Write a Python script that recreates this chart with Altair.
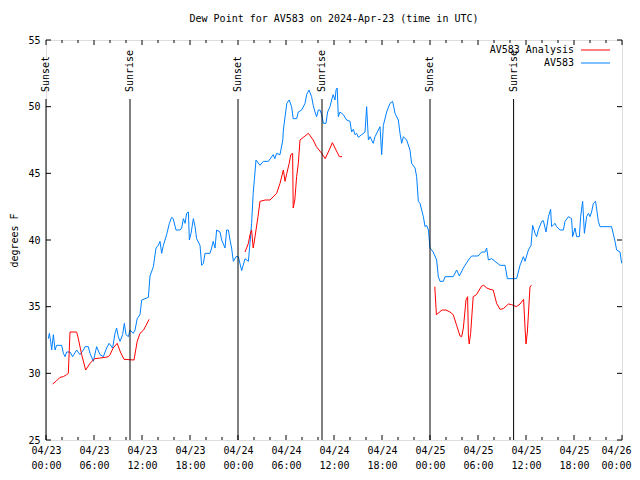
import json
import altair as alt
import pandas as pd

# ---------------- data ----------------
obs_hours = [0.29, 0.42, 0.58, 0.71, 0.92, 1.13, 1.33, 1.96, 2.17, 2.38, 2.58, 3.0, 3.33, 3.83, 4.25, 4.67, 4.88, 5.29,
             5.5, 5.92, 6.33, 6.75, 7.17, 7.58, 7.88, 8.33, 8.63, 8.83, 9.04, 9.25, 9.58, 9.79, 10.0, 10.3, 10.5, 10.9,
             11.13, 11.4, 11.75, 11.96, 12.8, 13.0, 13.42, 13.75, 14.04, 14.25, 14.46, 14.67, 15.08, 15.42, 15.7, 15.9,
             16.25, 16.75, 16.96, 17.17, 17.38, 17.58, 17.8, 17.92, 18.13, 18.42, 18.63, 18.83, 19.25, 19.46, 19.67,
             19.88, 20.5, 20.7, 20.9, 21.13, 21.33, 21.75, 21.96, 22.38, 22.58, 22.8, 23.0, 23.2, 23.42, 23.75, 24.04,
             24.46, 24.88, 25.3, 25.5, 25.7, 25.9, 26.25, 26.75, 27.17, 27.8, 28.4, 28.6, 28.83, 29.25, 29.6, 29.67,
             30.1, 30.4, 30.7, 30.9, 31.33, 31.54, 31.96, 32.38, 32.58, 32.88, 33.2, 33.4, 33.63, 33.83, 34.04, 34.25,
             34.46, 34.67, 35.0, 35.2, 35.5, 35.7, 35.9, 36.13, 36.25, 36.4, 36.54, 36.75, 37.17, 37.58, 38.0, 38.2,
             38.42, 38.63, 38.83, 39.04, 39.46, 39.88, 40.08, 40.3, 40.5, 40.9, 41.13, 41.75, 41.96, 42.17, 42.58, 43.0,
             43.33, 43.63, 44.04, 44.25, 44.46, 44.67, 45.08, 45.5, 45.7, 46.13, 46.33, 46.54, 46.75, 47.17, 47.38,
             47.58, 47.8, 48.0, 48.4, 48.83, 49.04, 49.25, 49.67, 49.88, 50.9, 51.33, 51.67, 52.17, 52.8, 53.2, 54.0,
             54.46, 54.88, 55.08, 55.3, 55.7, 56.13, 56.75, 57.38, 57.67, 58.83, 59.25, 59.67, 59.88, 60.3, 60.63,
             60.83, 61.13, 61.33, 61.54, 61.96, 62.17, 62.5, 62.8, 63.08, 63.2, 63.63, 63.83, 64.25, 64.67, 64.88, 65.3,
             65.7, 65.83, 66.13, 66.33, 66.67, 66.83, 67.08, 67.3, 67.58, 67.8, 68.0, 68.2, 68.42, 68.7, 69.04, 69.25,
             70.7, 71.13, 71.33, 71.75, 71.96]
obs_values = [32.6, 33.0, 32.4, 31.75, 32.9, 31.75, 32.1, 32.1, 31.5, 31.25, 31.6, 31.6, 31.25, 31.75, 31.4, 31.75, 32.0,
              32.0, 31.5, 30.9, 32.0, 31.4, 31.25, 31.9, 32.25, 31.9, 33.0, 33.4, 32.75, 32.4, 32.9, 33.75, 32.9, 32.75,
              33.25, 33.0, 33.25, 34.1, 34.4, 35.5, 35.7, 37.3, 38.0, 39.4, 39.6, 39.9, 39.0, 39.6, 40.4, 41.25, 41.7,
              41.6, 40.75, 40.75, 40.9, 41.6, 41.25, 42.0, 42.1, 40.0, 40.5, 41.6, 41.0, 40.1, 39.6, 38.1, 38.25, 39.0,
              39.0, 39.4, 39.9, 39.4, 40.75, 40.6, 40.0, 39.4, 40.75, 40.75, 40.0, 39.4, 38.4, 38.75, 38.75, 37.7, 38.6,
              38.4, 39.8, 41.25, 43.5, 46.0, 45.6, 45.9, 45.9, 46.4, 46.1, 46.5, 46.4, 47.5, 48.25, 50.25, 50.5, 50.0,
              49.1, 49.1, 49.6, 49.75, 50.25, 50.9, 51.25, 50.75, 50.1, 49.6, 49.25, 49.75, 49.75, 49.4, 48.75, 48.75,
              49.6, 50.0, 50.5, 50.9, 50.5, 51.25, 51.4, 49.25, 49.6, 49.4, 49.0, 48.9, 48.1, 48.3, 47.9, 48.0, 47.7,
              47.9, 48.1, 50.0, 47.5, 47.75, 47.25, 47.75, 48.5, 46.4, 48.6, 49.6, 50.25, 50.4, 49.5, 49.0, 48.0, 47.25,
              47.75, 47.5, 46.75, 45.75, 45.4, 44.75, 42.9, 42.75, 41.75, 41.0, 41.1, 40.75, 39.4, 39.1, 38.5, 37.25,
              36.9, 36.9, 37.25, 37.25, 37.75, 37.3, 37.9, 38.5, 38.8, 38.8, 39.1, 39.1, 39.4, 38.5, 38.6, 38.4, 38.1,
              38.1, 37.1, 37.1, 38.1, 38.75, 38.4, 39.25, 39.6, 41.1, 40.5, 40.25, 40.75, 41.4, 41.45, 40.6, 41.75,
              42.3, 41.0, 41.25, 41.0, 40.75, 40.75, 41.4, 41.75, 41.6, 40.25, 40.9, 40.25, 40.25, 41.75, 42.9, 40.5,
              41.75, 42.0, 41.75, 42.1, 42.75, 42.9, 41.4, 41.0, 41.0, 39.9, 39.25, 39.1, 38.25]

ana_seg1_hours = [0.83, 1.25, 1.75, 2.17, 2.58, 2.79, 3.0, 3.83, 4.0, 4.46, 4.96, 5.5, 5.9, 6.1, 7.4, 7.8, 8.0, 8.4, 8.9,
                  9.3, 9.75, 11.0, 11.4, 11.75, 12.2, 12.5, 12.9]
ana_seg1_values = [29.2, 29.4, 29.7, 29.75, 29.9, 30.0, 33.1, 33.1, 32.7, 31.4, 30.25, 30.75, 31.0, 31.1, 31.2, 31.25,
                   31.4, 31.9, 32.25, 31.6, 31.05, 31.0, 32.4, 33.0, 33.25, 33.6, 34.05]
ana_seg2_hours = [24.88, 25.3, 25.5, 25.7, 25.9, 26.0, 26.25, 26.5, 26.75, 27.4, 28.0, 28.83, 29.25, 29.67, 29.88, 30.1,
                  30.4, 30.6, 30.83, 30.9, 31.1, 31.33, 31.54, 31.75, 32.8, 33.4, 33.8, 34.46, 34.9, 35.4, 35.8, 36.25,
                  36.67, 37.0]
ana_seg2_values = [39.1, 39.75, 40.4, 40.75, 39.4, 39.75, 40.75, 41.75, 42.9, 43.0, 43.0, 43.5, 44.25, 45.25, 44.4, 45.0,
                   45.75, 46.4, 46.5, 42.4, 43.0, 44.75, 45.75, 47.5, 48.0, 47.5, 47.0, 46.5, 46.1, 46.75, 47.3, 46.75,
                   46.25, 46.25]
ana_seg3_hours = [48.6, 48.8, 49.5, 50.0, 50.5, 50.9, 51.33, 51.75, 51.96, 52.17, 52.5, 52.7, 52.8, 52.9, 53.08, 53.4,
                  53.8, 54.0, 54.46, 54.7, 55.1, 55.5, 55.9, 56.33, 56.75, 57.17, 57.8, 58.2, 58.8, 59.25, 59.7, 59.88,
                  60.0, 60.17, 60.5, 60.7]
ana_seg3_values = [36.5, 34.4, 34.75, 34.75, 34.6, 34.4, 33.6, 32.8, 32.75, 33.4, 35.5, 35.75, 32.8, 32.2, 33.0, 35.75,
                   35.9, 36.1, 36.55, 36.6, 36.4, 36.3, 36.25, 35.25, 34.8, 34.85, 35.2, 35.15, 35.0, 35.2, 35.55, 33.4,
                   32.2, 33.1, 36.5, 36.6]

sun_hours = [0, 10.5, 24, 34.5, 48, 58.45]
sun_labels = ["Sunset", "Sunrise", "Sunset", "Sunrise", "Sunset", "Sunrise"]

series_names = ["AV583 Analysis", "AV583"]
series_colors = ["#ff0000", "#0080ff"]

x_tick_values = list(range(0, 73, 6))
x_tick_labels = [["04/23", "00:00"], ["04/23", "06:00"], ["04/23", "12:00"], ["04/23", "18:00"],
                 ["04/24", "00:00"], ["04/24", "06:00"], ["04/24", "12:00"], ["04/24", "18:00"],
                 ["04/25", "00:00"], ["04/25", "06:00"], ["04/25", "12:00"], ["04/25", "18:00"],
                 ["04/26", "00:00"]]
x_minor_values = list(range(0, 73, 2))
y_tick_values = [25, 30, 35, 40, 45, 50, 55]

FONT = "DejaVu Sans Mono"
W, H = 576, 400

# ---------------- tables ----------------
obs_df = pd.DataFrame({"h": obs_hours, "v": obs_values, "series": "AV583", "seg": 0})
ana_df = pd.concat([
    pd.DataFrame({"h": ana_seg1_hours, "v": ana_seg1_values, "seg": 1}),
    pd.DataFrame({"h": ana_seg2_hours, "v": ana_seg2_values, "seg": 2}),
    pd.DataFrame({"h": ana_seg3_hours, "v": ana_seg3_values, "seg": 3}),
])
ana_df["series"] = "AV583 Analysis"
sun_df = pd.DataFrame({"h": sun_hours, "label": sun_labels})
xmajor_df = pd.DataFrame({"h": x_tick_values})
xminor_df = pd.DataFrame({"h": [m for m in x_minor_values if m % 6 != 0]})
ytick_df = pd.DataFrame({"v": y_tick_values})

label_expr = json.dumps(x_tick_labels) + "[round(datum.value / 6)]"

xscale = alt.Scale(domain=[0, 72], nice=False, zero=False)
yscale = alt.Scale(domain=[25, 55], nice=False, zero=False)
cscale = alt.Scale(domain=series_names, range=series_colors)

x_enc = alt.X("h:Q", scale=xscale,
              axis=alt.Axis(values=x_tick_values, labelExpr=label_expr, ticks=False, domain=False, grid=False,
                            labelFont=FONT, labelFontSize=10, labelColor="black", labelPadding=5,
                            labelLineHeight=15, labelFlush=False, labelOverlap=False,
                            labelOffset={"condition": {"test": "datum.value >= 72", "value": -6}, "value": 0}),
              title=None)
y_enc = alt.Y("v:Q", scale=yscale,
              axis=alt.Axis(values=y_tick_values, ticks=False, domain=False, grid=False,
                            labelFont=FONT, labelFontSize=10, labelColor="black", labelPadding=6,
                            titleFont=FONT, titleFontSize=10, titleFontWeight="normal", titleColor="black",
                            titlePadding=8),
              title="degrees F")

obs_line = alt.Chart(obs_df).mark_line(strokeWidth=1, interpolate="linear").encode(
    x=x_enc, y=y_enc, color=alt.Color("series:N", scale=cscale, legend=None))
ana_line = alt.Chart(ana_df).mark_line(strokeWidth=1, interpolate="linear").encode(
    x=alt.X("h:Q", scale=xscale), y=alt.Y("v:Q", scale=yscale),
    color=alt.Color("series:N", scale=cscale, legend=None), detail="seg:N")

sun_rules = alt.Chart(sun_df).mark_rule(color="black", strokeWidth=1).encode(
    x=alt.X("h:Q", scale=xscale), y=alt.value(59), y2=alt.value(H))
sun_text = alt.Chart(sun_df).mark_text(angle=270, align="left", baseline="middle", font=FONT, fontSize=10,
                                        color="black").encode(
    x=alt.X("h:Q", scale=xscale), y=alt.value(52), text="label:N")

tick_style = dict(color="black", strokeWidth=1)
xmaj_bot = alt.Chart(xmajor_df).mark_rule(**tick_style).encode(
    x=alt.X("h:Q", scale=xscale), y=alt.value(H), y2=alt.value(H - 5))
xmaj_top = alt.Chart(xmajor_df).mark_rule(**tick_style).encode(
    x=alt.X("h:Q", scale=xscale), y=alt.value(0), y2=alt.value(5))
xmin_bot = alt.Chart(xminor_df).mark_rule(**tick_style).encode(
    x=alt.X("h:Q", scale=xscale), y=alt.value(H), y2=alt.value(H - 3))
xmin_top = alt.Chart(xminor_df).mark_rule(**tick_style).encode(
    x=alt.X("h:Q", scale=xscale), y=alt.value(0), y2=alt.value(3))
y_left = alt.Chart(ytick_df).mark_rule(**tick_style).encode(
    y=alt.Y("v:Q", scale=yscale), x=alt.value(0), x2=alt.value(5))
y_right = alt.Chart(ytick_df).mark_rule(**tick_style).encode(
    y=alt.Y("v:Q", scale=yscale), x=alt.value(W), x2=alt.value(W - 5))

leg_layers = []
for i, (name, col) in enumerate(zip(series_names, series_colors)):
    ly = 10 + 13 * i
    ldf = pd.DataFrame({"series": [name]})
    leg_layers.append(alt.Chart(ldf).mark_text(align="right", baseline="middle", font=FONT, fontSize=10,
                                               color="black").encode(
        x=alt.value(528), y=alt.value(ly), text="series:N"))
    leg_layers.append(alt.Chart(ldf).mark_rule(color=col, strokeWidth=1).encode(
        x=alt.value(535), x2=alt.value(564), y=alt.value(ly)))

chart = alt.layer(
    obs_line, ana_line, sun_rules, sun_text,
    xmaj_bot, xmaj_top, xmin_bot, xmin_top, y_left, y_right,
    *leg_layers
).properties(
    width=W, height=H,
    title=alt.TitleParams("Dew Point for AV583 on 2024-Apr-23 (time in UTC)", font=FONT, fontSize=10,
                          fontWeight="normal", color="black", anchor="middle", offset=11),
    autosize=alt.AutoSizeParams(type="none"),
    padding={"left": 38, "top": 32, "right": 10, "bottom": 32},
).configure_view(stroke="black", strokeWidth=1).configure(background="white")

chart.save("out.html", embed_options={"renderer": "svg", "actions": False})
